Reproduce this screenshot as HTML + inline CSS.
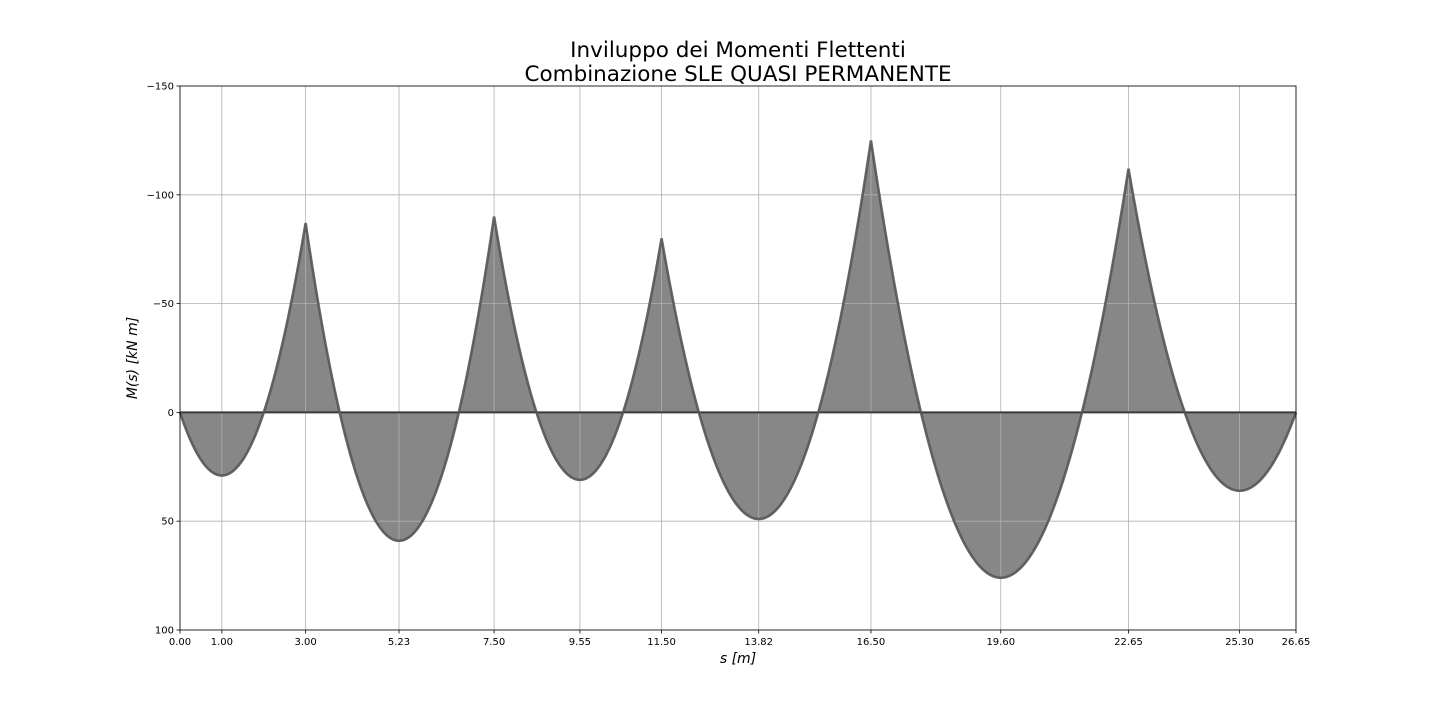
<!DOCTYPE html>
<html><head><meta charset="utf-8"><style>
body{margin:0;background:#fff;}
svg{display:block;font-family:"DejaVu Sans","Liberation Sans",sans-serif;}
</style></head><body>
<svg id="chart" width="1440" height="720">
<text x="738" y="57" font-size="21.5" text-anchor="middle">Inviluppo dei Momenti Flettenti</text>
<text x="738" y="81" font-size="21.5" text-anchor="middle">Combinazione SLE QUASI PERMANENTE</text>
<g id="plot"></g>
<text x="738" y="663" font-size="14" text-anchor="middle" font-style="italic">s [m]</text>
<text transform="translate(137,358) rotate(-90)" font-size="14" text-anchor="middle" font-style="italic">M(s) [kN m]</text>
</svg>
<script>
const supports=[0,3,7.5,11.5,16.5,22.65,26.65];
const supportMoments=[0,-87,-90,-80,-125,-112,0];
const spanPeakPos=[1.00,5.23,9.55,13.82,19.60,25.30];
const spanPeakVal=[29,59,31,49,76,36];
const xTicks=[0,1,3,5.23,7.5,9.55,11.5,13.82,16.5,19.6,22.65,25.3,26.65];
const xTickLabels=["0.00","1.00","3.00","5.23","7.50","9.55","11.50","13.82","16.50","19.60","22.65","25.30","26.65"];
const yTicks=[-150,-100,-50,0,50,100];
const yTickLabels=["\u2212150","\u2212100","\u221250","0","50","100"];

const L=180,R=1296,T=86,B=630;
const sx=v=>L+(v-0)/(26.65)*(R-L);
const sy=v=>T+(v+150)/250*(B-T);
const NS="http://www.w3.org/2000/svg";
const g=document.getElementById('plot');
function mk(t,a){const e=document.createElementNS(NS,t);for(const k in a)e.setAttribute(k,a[k]);g.appendChild(e);return e;}

const pts=[];
for(let i=0;i<spanPeakPos.length;i++){
  const a=supports[i],b=supports[i+1],xm=spanPeakPos[i],mm=spanPeakVal[i];
  const Al=(supportMoments[i]-mm)/((a-xm)**2), Ar=(supportMoments[i+1]-mm)/((b-xm)**2);
  const n=80;
  for(let k=0;k<=n;k++){const x=a+(xm-a)*k/n;pts.push([x,mm+Al*(x-xm)**2]);}
  for(let k=1;k<=n;k++){const x=xm+(b-xm)*k/n;pts.push([x,mm+Ar*(x-xm)**2]);}
}
const line=pts.map((p,i)=>(i?'L':'M')+sx(p[0]).toFixed(2)+','+sy(p[1]).toFixed(2)).join('');
const fill=mk('path',{d:line+`L${sx(26.65)},${sy(0)}L${sx(0)},${sy(0)}Z`,fill:'#878787'});



xTicks.forEach((v,i)=>{
  const l=mk('line',{x1:sx(v),x2:sx(v),y1:T,y2:B,stroke:'#b0b0b0','stroke-width':0.8});
  
  
  const tk=mk('line',{x1:sx(v),x2:sx(v),y1:B,y2:B+3.5,stroke:'#000','stroke-width':0.8});
  
  
  const t=mk('text',{x:sx(v),y:B+15,'font-size':10,'text-anchor':'middle'});
  t.textContent=xTickLabels[i];
  
  
});
yTicks.forEach((v,i)=>{
  const l=mk('line',{x1:L,x2:R,y1:sy(v),y2:sy(v),stroke:'#b0b0b0','stroke-width':0.8});
  
  
  const tk=mk('line',{x1:L-3.5,x2:L,y1:sy(v),y2:sy(v),stroke:'#000','stroke-width':0.8});
  
  
  const t=mk('text',{x:L-6,y:sy(v)+3.5,'font-size':10,'text-anchor':'end'});
  t.textContent=yTickLabels[i];
  
  
});
const zl=mk('line',{x1:L,x2:R,y1:sy(0),y2:sy(0),stroke:'#3a3a3a','stroke-width':2});


const cl=mk('path',{d:line,fill:'none',stroke:'#555','stroke-width':2.6,'stroke-opacity':0.9});


const fr=mk('rect',{x:L,y:T,width:R-L,height:B-T,fill:'none',stroke:'#000','stroke-width':0.8});


</script>
</body></html>
